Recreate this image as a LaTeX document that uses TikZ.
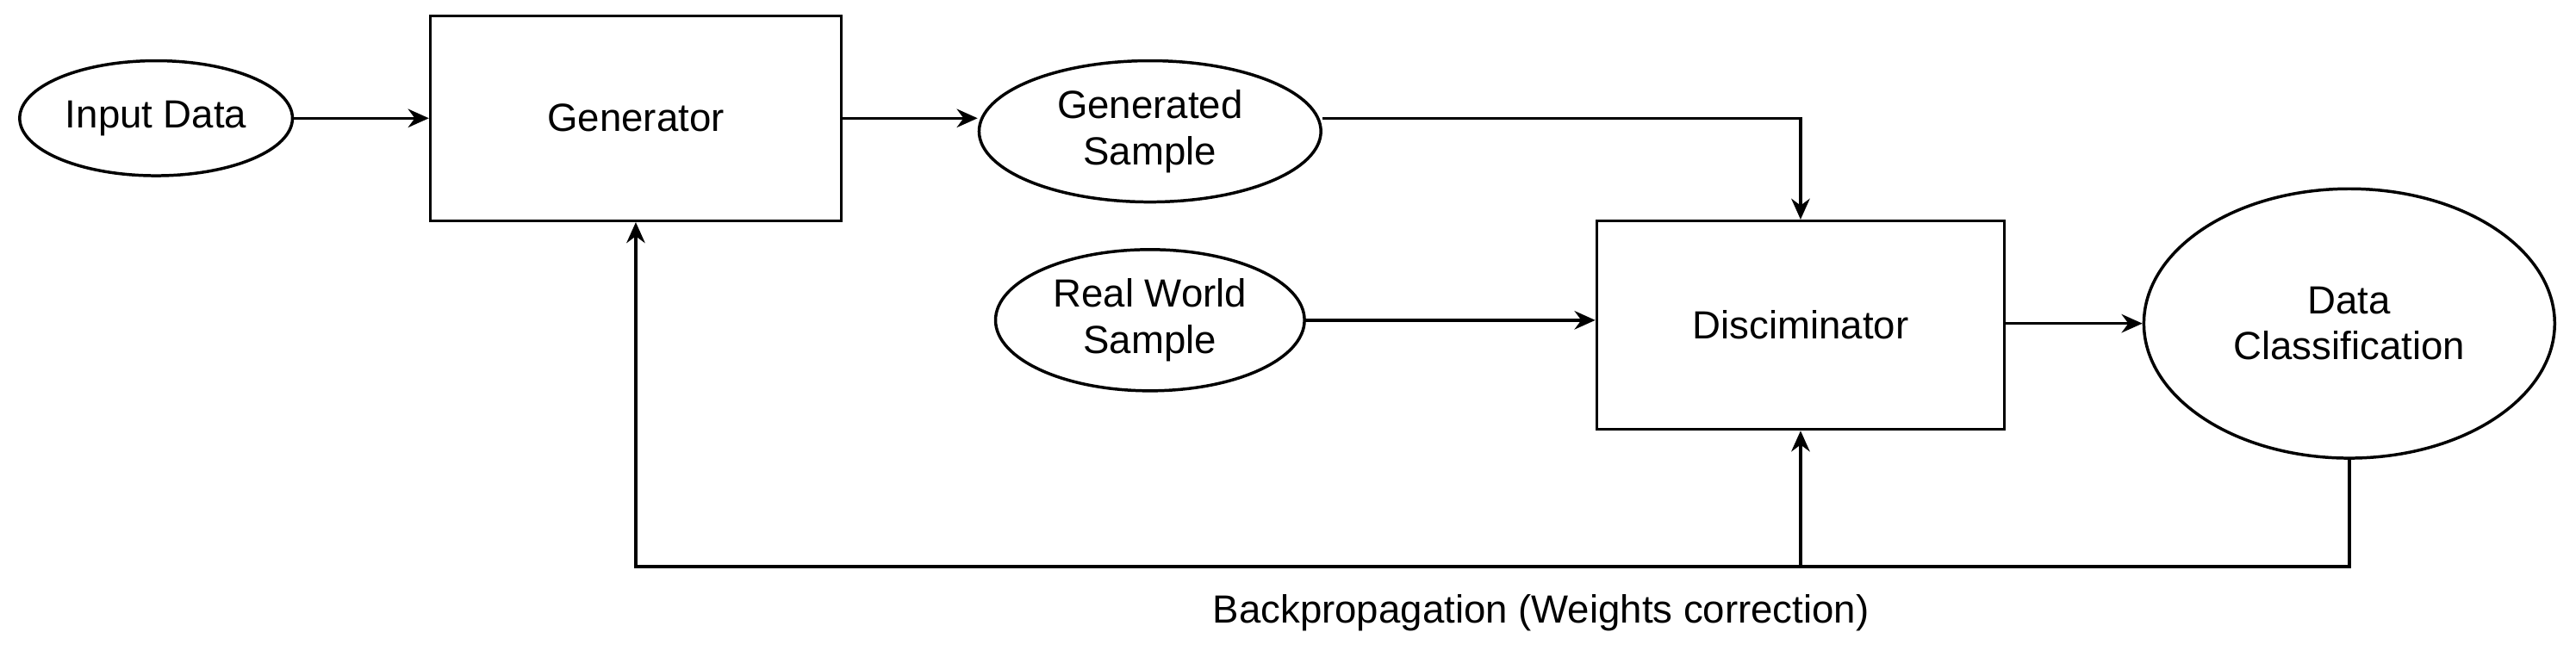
\documentclass[tikz,border=0pt]{standalone}
\usepackage{fontspec}
\setmainfont{Liberation Sans}
\usetikzlibrary{shapes.geometric,arrows.meta}
\begin{document}
\begin{tikzpicture}[x=0.025cm,y=-0.025cm,font=\fontsize{17}{20}\selectfont,line width=1.3pt,
  blk/.style={draw,inner sep=0pt},
  ell/.style={draw,ellipse,inner sep=0pt,align=center},
  arr/.style={-{Stealth[length=9pt,width=8pt]}}]
\useasboundingbox (0,0) rectangle (1568,400);
\node[ell,minimum width=4.15cm,minimum height=1.75cm] (input) at (95,72) {Input Data};
\node[blk,minimum width=6.25cm,minimum height=3.12cm] (gen) at (387,72) {Generator};
\node[ell,minimum width=5.2cm,minimum height=2.15cm] (gsample) at (700,80) {Generated\\Sample};
\node[ell,minimum width=4.7cm,minimum height=2.15cm] (rsample) at (700,195) {Real World\\Sample};
\node[blk,minimum width=6.2cm,minimum height=3.17cm] (disc) at (1096,198) {Disciminator};
\node[ell,minimum width=6.25cm,minimum height=4.1cm] (data) at (1430,197) {Data\\Classification};
\node (backlbl) at (938,373) {Backpropagation (Weights correction)};
\coordinate (c1) at (1430,345);
\coordinate (c2) at (387,345);
\coordinate (c3) at (1096,345);
\draw[arr] (input) -- (gen.west|-input);
\draw[arr] (gen.east|-input) -- (gsample.west|-input);
\draw[arr] (gsample.east|-input) -| (disc.north);
\draw[arr] (rsample) -- (disc.west|-rsample);
\draw[arr] (disc.east|-data) -- (data);
\draw[arr] (data.south) -- (c1) -- (c2) -- (gen.south);
\draw[arr] (c3) -- (disc.south);
\end{tikzpicture}
\end{document}
